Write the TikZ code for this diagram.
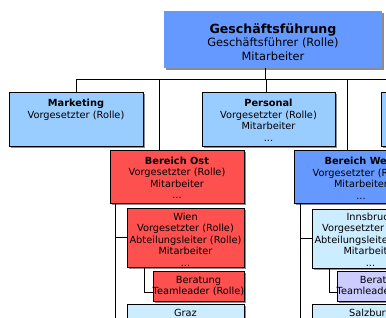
\documentclass[tikz,border=0pt]{standalone}
\usepackage{fontspec}
\setmainfont{DejaVu Sans}
\usetikzlibrary{shadows,calc}
\definecolor{cTop}{HTML}{6699FF}
\definecolor{cMid}{HTML}{99CCFF}
\definecolor{cRed}{HTML}{FF5050}
\definecolor{cLight}{HTML}{CCECFF}
\definecolor{cLav}{HTML}{CCCCFF}
\definecolor{cShadow}{HTML}{8C8C8C}
\tikzset{
  orgbox/.style={draw=black, line width=0.8pt, rectangle, inner sep=0pt, outer sep=0pt,
    anchor=north west,
    drop shadow={shadow xshift=2pt, shadow yshift=-2pt, fill=cShadow, opacity=1}},
  txt/.style={anchor=north, align=center, inner sep=0pt, font=\fontsize{9.8}{11.5}\selectfont},
  ctxt/.style={anchor=center, align=center, inner sep=0pt, font=\fontsize{9.8}{11.5}\selectfont},
  link/.style={draw=black, line width=0.8pt},
}
\begin{document}
\begin{tikzpicture}[x=1pt,y=-1pt]
\useasboundingbox (0,0) rectangle (386,318);
\fill[white] (0,0) rectangle (386,318);
\begin{scope}
\clip (0,0) rectangle (386,318);
% boxes
\node[orgbox, draw=none, fill=cTop, minimum width=218pt, minimum height=57pt] (top) at (164,11) {};
\node[orgbox, fill=cMid, minimum width=134pt, minimum height=54pt] (mk) at (9,92) {};
\node[orgbox, fill=cMid, minimum width=133pt, minimum height=54pt] (pe) at (202,92) {};
\node[orgbox, fill=cMid, minimum width=134pt, minimum height=54pt] (rb) at (381,92) {};
\node[orgbox, fill=cRed, minimum width=134pt, minimum height=53pt] (ost) at (110,150) {};
\node[orgbox, fill=cTop, minimum width=134pt, minimum height=53pt] (west) at (294,150) {};
\node[orgbox, fill=cRed, minimum width=117pt, minimum height=59pt] (wien) at (127,208) {};
\node[orgbox, fill=cRed, minimum width=91pt, minimum height=30pt] (bo) at (153,271) {};
\node[orgbox, fill=cLight, minimum width=117pt, minimum height=59pt] (graz) at (127,304) {};
\node[orgbox, fill=cLight, minimum width=117pt, minimum height=59pt] (inn) at (312,209) {};
\node[orgbox, fill=cLav, minimum width=91pt, minimum height=30pt] (bw) at (337,271) {};
\node[orgbox, fill=cLight, minimum width=117pt, minimum height=59pt] (sal) at (312,304) {};
% texts
\node[anchor=center, align=center, inner sep=0pt, font=\fontsize{11.4}{13.5}\selectfont] (topT) at ([yshift=-2.5pt]top.center)
  {{\fontsize{12.6}{15}\selectfont\bfseries Geschäftsführung}\\Geschäftsführer (Rolle)\\Mitarbeiter};
\node[txt] (mkT) at ([yshift=-7pt]mk.north) {\textbf{Marketing}\\Vorgesetzter (Rolle)};
\node[txt] (peT) at ([yshift=-7pt]pe.north) {\textbf{Personal}\\Vorgesetzter (Rolle)\\Mitarbeiter\\...};
\node[txt] (ostT) at ([yshift=-6.5pt]ost.north) {\textbf{Bereich Ost}\\Vorgesetzter (Rolle)\\Mitarbeiter\\...};
\node[txt] (westT) at ([yshift=-7pt]west.north) {\textbf{Bereich West}\\Vorgesetzter (Rolle)\\Mitarbeiter\\...};
\node[txt] (wienT) at ([yshift=-4.5pt]wien.north) {Wien\\Vorgesetzter (Rolle)\\Abteilungsleiter (Rolle)\\Mitarbeiter\\...};
\node[txt] (innT) at ([yshift=-3.5pt]inn.north) {Innsbruck\\Vorgesetzter (Rolle)\\Abteilungsleiter (Rolle)\\Mitarbeiter\\...};
\node[ctxt] (boT) at (bo.center) {Beratung\\Teamleader (Rolle)};
\node[ctxt] (bwT) at (bw.center) {Beratung\\Teamleader (Rolle)};
\node[txt] (grazT) at ([yshift=-5pt]graz.north) {Graz};
\node[txt] (salT) at ([yshift=-5pt]sal.north) {Salzburg};
% connectors
\coordinate (busR) at (400,79);
\draw[link] (mk.north) |- (busR);
\draw[link] ([xshift=-8pt]top.south) -- ([xshift=-8pt]top.south |- busR);
\draw[link] ([xshift=-2.5pt]pe.north) -- ([xshift=-2.5pt]pe.north |- busR);
\draw[link] ([xshift=49pt]ost.north west) -- ([xshift=49pt]ost.north west |- busR);
\draw[link] ([xshift=53pt]west.north west) -- ([xshift=53pt]west.north west |- busR);
\draw[link] ([xshift=5pt]ost.south west) |- (wien.west);
\draw[link] ([xshift=5pt]ost.south west) |- (graz.west);
\draw[link] ([xshift=17pt]wien.south west) |- ([yshift=-6pt]bo.west);
\draw[link] ([xshift=6pt]west.south west) |- (inn.west);
\draw[link] ([xshift=6pt]west.south west) |- (sal.west);
\draw[link] ([xshift=17pt]inn.south west) |- ([yshift=-6pt]bw.west);
\end{scope}
\end{tikzpicture}
\end{document}
